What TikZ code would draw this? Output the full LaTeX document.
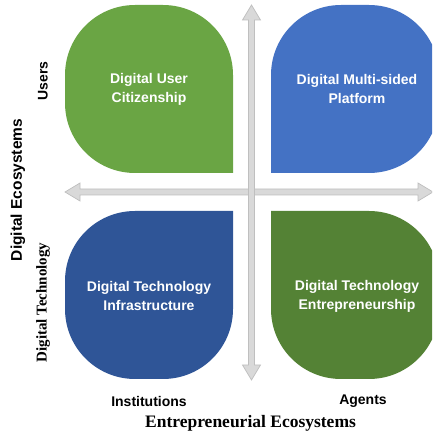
\documentclass[tikz,border=0pt]{standalone}
\usepackage{fontspec}
\setmainfont{Liberation Serif}
\setsansfont{Liberation Sans}
\definecolor{cgreen}{HTML}{6AA544}
\definecolor{cblue}{HTML}{4472C4}
\definecolor{cdblue}{HTML}{2F5597}
\definecolor{cdgreen}{HTML}{548235}
\definecolor{axfill}{HTML}{D9D9D9}
\definecolor{axline}{HTML}{BFBFBF}
\begin{document}
\begin{tikzpicture}[x=1pt,y=1pt,
  leaftext/.style={text=white,font=\sffamily\bfseries\fontsize{14}{19}\selectfont,align=center,inner sep=0pt},
  axislabel/.style={font=\sffamily\bfseries\fontsize{14}{16}\selectfont,inner sep=0pt},
  seriflabel/.style={font=\rmfamily\bfseries\fontsize{15}{17}\selectfont,inner sep=0pt},
  axisarrow/.style={fill=axfill,draw=axline,line width=0.75pt,line join=miter}]
\useasboundingbox (0,0) rectangle (432,440);
\clip (0,0) rectangle (432,440);
% leaves
\fill[cgreen] (233,267) -- (135,267) arc[start angle=270,end angle=180,radius=70]
  -- (65,365) arc[start angle=180,end angle=90,radius=70]
  -- (163,435) arc[start angle=90,end angle=0,radius=70] -- cycle;
\fill[cblue] (271,267) -- (271,365) arc[start angle=180,end angle=90,radius=70]
  -- (369,435) arc[start angle=90,end angle=0,radius=70]
  -- (439,337) arc[start angle=0,end angle=-90,radius=70] -- cycle;
\fill[cdblue] (233,229) -- (233,131) arc[start angle=0,end angle=-90,radius=70]
  -- (135,61) arc[start angle=270,end angle=180,radius=70]
  -- (65,159) arc[start angle=180,end angle=90,radius=70] -- cycle;
\fill[cdgreen] (271,229) -- (369,229) arc[start angle=90,end angle=0,radius=70]
  -- (439,131) arc[start angle=0,end angle=-90,radius=70]
  -- (341,61) arc[start angle=270,end angle=180,radius=70] -- cycle;
% axes
\draw[axisarrow] (65,248) -- (80,257) -- (80,251) -- (418,251) -- (418,257) -- (433,248)
  -- (418,239) -- (418,245) -- (80,245) -- (80,239) -- cycle;
\draw[axisarrow] (251.5,435) -- (260.5,420) -- (254.5,420) -- (254.5,75) -- (260.5,75) -- (251.5,60)
  -- (242.5,75) -- (248.5,75) -- (248.5,420) -- (242.5,420) -- cycle;
% texts
\node[leaftext] (duc) at (149,351) {Digital User\\Citizenship};
\node[leaftext] (dmp) at (357,351) {Digital Multi-sided\\Platform};
\node[leaftext] (dti) at (149,144.5) {Digital Technology\\Infrastructure};
\node[leaftext] (dte) at (357,144) {Digital Technology\\Entrepreneurship};
\node[axislabel,rotate=90] (users) at (43,359) {Users};
\node[font=\sffamily\bfseries\fontsize{15.5}{18}\selectfont,inner sep=0pt,rotate=90] (de) at (18,250) {Digital Ecosystems};
\node[seriflabel,rotate=90] (dt) at (43,137.5) {Digital Technology};
\node[axislabel] (inst) at (149,39) {Institutions};
\node[axislabel] (agents) at (363,39) {Agents};
\node[font=\rmfamily\bfseries\fontsize{17.5}{20}\selectfont,inner sep=0pt] (ee) at (250.5,17) {Entrepreneurial Ecosystems};
\end{tikzpicture}
\end{document}
